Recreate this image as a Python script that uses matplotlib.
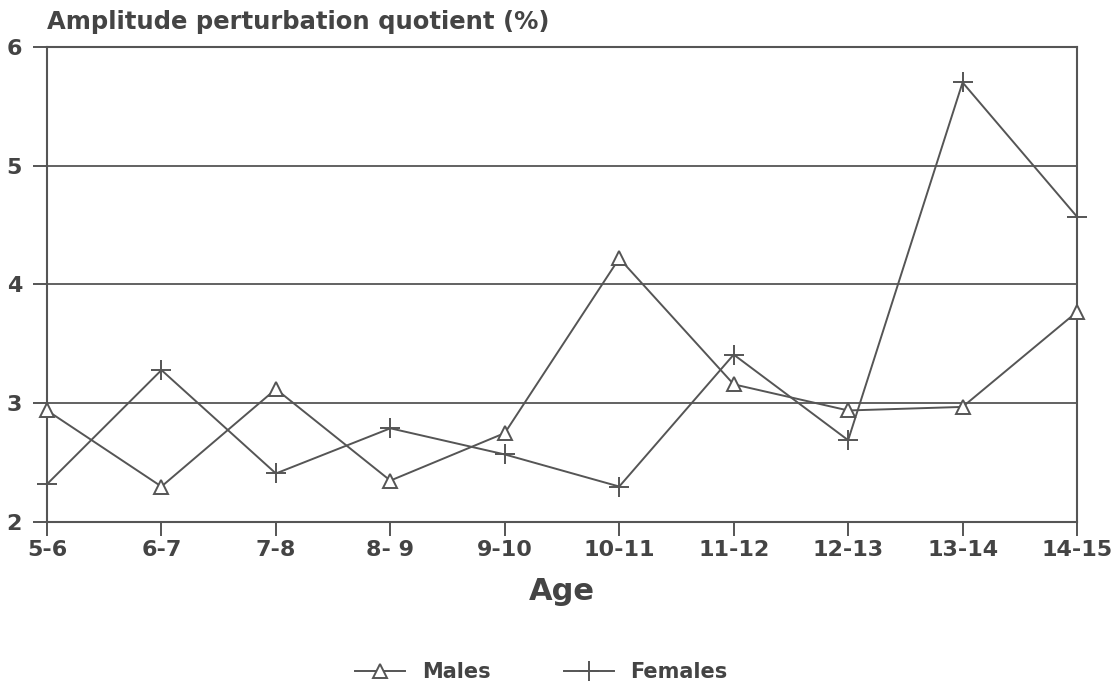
import numpy as np
import matplotlib.pyplot as plt

ages = ['5-6', '6-7', '7-8', '8- 9', '9-10', '10-11', '11-12', '12-13', '13-14', '14-15']
males = [2.94, 2.30, 3.12, 2.35, 2.75, 4.22, 3.16, 2.94, 2.97, 3.77]
females = [2.32, 3.28, 2.41, 2.79, 2.57, 2.30, 3.41, 2.69, 5.70, 4.57]
yticks = [2, 3, 4, 5, 6]

ink = '#555555'
txt = '#444444'
plt.rcParams['font.family'] = ['DejaVu Sans']
plt.rcParams['font.weight'] = 'bold'

fig = plt.figure(figsize=(11.19, 6.88), dpi=100)
ax = fig.add_axes([0.042, 0.241, 0.9205, 0.691])

x = np.arange(len(ages))
ax.plot(x, males, color=ink, lw=1.4, marker='^', ms=10, mfc='white', mec=ink, mew=1.4,
        label='Males', clip_on=False, zorder=3)
ax.plot(x, females, color=ink, lw=1.4, marker='+', ms=14, mew=1.4,
        label='Females', clip_on=False, zorder=3)

ax.set_xlim(0, len(ages) - 1)
ax.set_ylim(2, 6)
ax.set_xticks(x)
ax.set_xticklabels(ages)
ax.set_yticks(yticks)
ax.yaxis.grid(True, color=ink, lw=1.3)
ax.set_axisbelow(True)
for s in ax.spines.values():
    s.set_color(ink)
    s.set_linewidth(1.5)
ax.tick_params(axis='both', colors=ink, length=10, width=1.4, labelsize=16, pad=3)
ax.tick_params(axis='y', pad=8)
for lab in ax.get_xticklabels() + ax.get_yticklabels():
    lab.set_color(txt)

ax.set_xlabel('Age', fontsize=22, fontweight='bold', color=txt, labelpad=12)
fig.text(0.042, 0.95, 'Amplitude perturbation quotient (%)', fontsize=17.5,
         color=txt, ha='left', va='bottom')

ax.legend(loc='upper center', bbox_to_anchor=(0.48, -0.255), ncol=2, frameon=False,
          fontsize=15, handlelength=2.4, columnspacing=3.5, labelcolor=txt)

fig.savefig('out.png', dpi=100)
